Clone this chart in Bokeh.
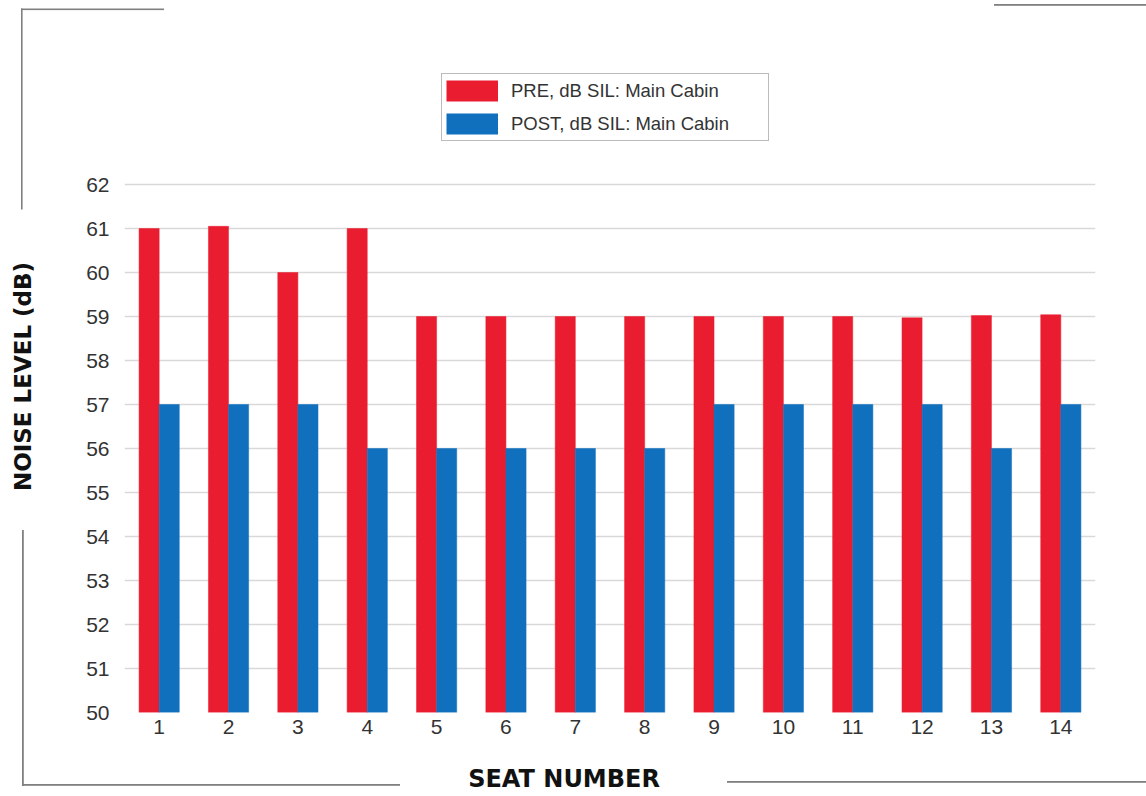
import base64
from bokeh.plotting import figure
from bokeh.models import (FactorRange, Range1d, Legend, LegendItem, FixedTicker,
                          ColumnDataSource)
from bokeh.transform import dodge
from bokeh.embed import file_html
from bokeh.resources import INLINE

seats = [str(i) for i in range(1, 15)]
pre = [61.0, 61.05, 60.0, 61.0, 59.0, 59.0, 59.0, 59.0, 59.0, 59.0, 59.0, 58.97, 59.02, 59.04]
post = [57, 57, 57, 56, 56, 56, 56, 56, 57, 57, 57, 57, 56, 57]
y_ticks = list(range(50, 63))
pre_label = "PRE, dB SIL: Main Cabin"
post_label = "POST, dB SIL: Main Cabin"
x_title = "SEAT NUMBER"
y_title = "NOISE LEVEL (dB)"

RED = "#EA1D30"
BLUE = "#1170BD"
TICK_FONT = "Liberation Sans"
TITLE_FONT = "DejaVu Sans"

src = ColumnDataSource(dict(seat=seats, pre=pre, post=post))

W, H = 1146, 796
FRAME_TOP, FRAME_BOTTOM, Y62 = 40, 712, 184
y_end = 50 + 12 * (FRAME_BOTTOM - FRAME_TOP) / (FRAME_BOTTOM - Y62)

p = figure(width=W, height=H, x_range=FactorRange(*seats), y_range=Range1d(50, y_end),
           output_backend="svg", toolbar_location=None,
           min_border_left=124, min_border_right=51, min_border_top=FRAME_TOP,
           min_border_bottom=H - FRAME_BOTTOM)
p.outline_line_color = None
p.background_fill_color = None
p.border_fill_color = None
# off-screen range used only by the legend swatch renderers
p.extra_y_ranges = {"swatch": Range1d(1000, 1001)}

# decorative corner brackets behind the canvas
svg = ("<svg xmlns='http://www.w3.org/2000/svg' width='1146' height='796'>"
       "<g fill='rgb(128,128,128)'>"
       "<rect x='21' y='8.5' width='143' height='1.6'/>"
       "<rect x='21' y='8.5' width='1.6' height='201'/>"
       "<rect x='22' y='530' width='1.8' height='256'/>"
       "<rect x='22' y='784' width='378' height='1.8'/>"
       "<rect x='727' y='781' width='419' height='1.8'/>"
       "<rect x='994' y='4' width='152' height='1.8'/>"
       "</g></svg>")
uri = "data:image/svg+xml;base64," + base64.b64encode(svg.encode()).decode()
p.styles = {"background-image": f"url('{uri}')", "background-repeat": "no-repeat",
            "background-position": "0 0"}

r_pre = p.vbar(x=dodge("seat", -0.145, range=p.x_range), top="pre", bottom=50, width=0.29,
               source=src, fill_color=RED, line_color=RED, line_width=0.5)
r_post = p.vbar(x=dodge("seat", 0.145, range=p.x_range), top="post", bottom=50, width=0.29,
                source=src, fill_color=BLUE, line_color=BLUE, line_width=0.5)

# legend swatches: thick lines give full-size rectangles (drawn off-screen)
sw_pre = p.line(x="seat", y="pre", source=src, y_range_name="swatch",
                line_color=RED, line_width=21, line_cap="butt")
sw_post = p.line(x="seat", y="post", source=src, y_range_name="swatch",
                 line_color=BLUE, line_width=21, line_cap="butt")

# axes
p.yaxis.ticker = FixedTicker(ticks=y_ticks)
p.yaxis.axis_line_color = None
p.yaxis.major_tick_line_color = None
p.yaxis.minor_tick_line_color = None
p.yaxis.major_label_text_font = TICK_FONT
p.yaxis.major_label_text_font_size = "21px"
p.yaxis.major_label_text_color = "#333333"
p.yaxis.major_label_standoff = 9
p.yaxis.axis_label = y_title
p.yaxis.axis_label_text_font = TITLE_FONT
p.yaxis.axis_label_text_font_style = "bold"
p.yaxis.axis_label_text_font_size = "23px"
p.yaxis.axis_label_text_color = "#111111"
p.yaxis.axis_label_standoff = 47

p.xaxis.axis_line_color = None
p.xaxis.major_tick_line_color = None
p.xaxis.minor_tick_line_color = None
p.xaxis.major_label_text_font = TICK_FONT
p.xaxis.major_label_text_font_size = "21px"
p.xaxis.major_label_text_color = "#333333"
p.xaxis.major_label_standoff = 1
# trailing no-break spaces shift the centred title left, as in the original
p.xaxis.axis_label = x_title + "\u00a0" * 11
p.xaxis.axis_label_text_font = TITLE_FONT
p.xaxis.axis_label_text_font_style = "bold"
p.xaxis.axis_label_text_font_size = "24px"
p.xaxis.axis_label_text_color = "#111111"
p.xaxis.axis_label_standoff = 28

p.xgrid.grid_line_color = None
p.ygrid.ticker = FixedTicker(ticks=y_ticks)
p.ygrid.grid_line_color = "#d9d9d9"
p.ygrid.grid_line_width = 1.4

legend = Legend(items=[LegendItem(label=pre_label, renderers=[sw_pre]),
                       LegendItem(label=post_label, renderers=[sw_post])],
                orientation="vertical", location=(317, 571),
                glyph_width=52, glyph_height=25, label_standoff=13, label_width=253,
                label_height=25, padding=4, spacing=8, margin=0,
                label_text_font=TICK_FONT, label_text_font_size="18.5px",
                label_text_color="#333333",
                border_line_color="#777777", border_line_width=1,
                background_fill_color="white", background_fill_alpha=1)
p.add_layout(legend, "center")

open("out.html", "w").write(file_html(p, INLINE))
